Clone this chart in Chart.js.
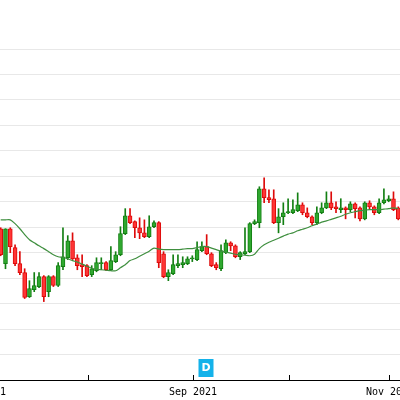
<!DOCTYPE html>
<html>
<head>
<meta charset="utf-8">
<script src="https://cdn.jsdelivr.net/npm/chart.js@4.4.0/dist/chart.umd.min.js"></script>
<style>
  html, body { margin: 0; padding: 0; background: #fff; overflow: hidden; }
  #wrap { position: absolute; left: -40px; top: 0; width: 440px; height: 400px; }
</style>
</head>
<body>
<div id="wrap"><canvas id="chart"></canvas></div>
<script>
// daily candles, one per trading day (index 0 = first visible session)
const opens = [
  25.94, 24.57, 25.94, 25.20, 24.57, 24.22, 23.27, 23.55, 23.67, 24.06,
  23.47, 24.06, 23.71, 24.45, 24.80, 25.47, 24.80, 24.53, 24.49, 24.14,
  24.29, 24.57, 24.61, 24.33, 24.65, 24.92, 25.75, 26.45, 26.22, 25.98,
  25.78, 25.63, 26.02, 26.18, 24.96, 24.06, 24.18, 24.49, 24.53, 24.57,
  24.76, 24.73, 25.08, 25.24, 24.96, 24.53, 24.37, 25.00, 25.39, 25.27,
  24.84, 24.96, 25.04, 26.14, 26.18, 27.51, 27.16, 27.12, 26.18, 26.41,
  26.57, 26.57, 26.65, 26.88, 26.57, 26.41, 26.18, 26.57, 26.76, 26.96,
  26.80, 26.69, 26.76, 26.69, 26.92, 26.76, 26.33, 26.96, 26.80, 26.57,
  26.96, 27.04, 27.12, 26.76
];
const highs = [
  25.98, 25.94, 25.98, 25.31, 25.04, 24.37, 23.90, 24.22, 24.22, 24.10,
  24.10, 24.10, 24.61, 25.98, 25.67, 25.78, 24.92, 24.92, 24.53, 24.49,
  24.80, 24.80, 24.65, 25.24, 25.04, 26.02, 26.73, 26.73, 26.25, 26.37,
  26.29, 26.45, 26.25, 26.22, 25.04, 24.33, 24.92, 24.92, 24.84, 24.84,
  24.88, 25.43, 25.43, 25.71, 25.00, 24.61, 25.31, 25.51, 25.43, 25.31,
  25.04, 25.98, 26.18, 26.29, 27.59, 27.94, 27.47, 27.47, 26.73, 26.96,
  27.12, 27.08, 27.35, 26.96, 26.76, 26.45, 26.80, 26.96, 27.39, 27.39,
  27.00, 27.12, 26.80, 27.00, 26.96, 26.80, 27.00, 27.04, 26.84, 27.12,
  27.51, 27.24, 27.39, 26.80
];
const lows = [
  24.88, 24.37, 25.00, 24.49, 24.14, 23.20, 23.24, 23.47, 23.63, 23.08,
  23.27, 23.67, 23.67, 24.33, 24.73, 24.73, 24.33, 24.06, 24.06, 24.06,
  24.25, 24.33, 24.29, 24.29, 24.61, 24.88, 25.71, 26.14, 25.59, 25.55,
  25.59, 25.59, 25.98, 24.41, 24.02, 23.90, 24.14, 24.41, 24.41, 24.53,
  24.65, 24.69, 25.04, 24.92, 24.45, 24.33, 24.29, 24.96, 25.08, 24.80,
  24.73, 24.92, 25.00, 26.10, 25.98, 26.96, 26.96, 26.14, 25.78, 26.10,
  26.53, 26.53, 26.61, 26.49, 26.37, 26.10, 26.10, 26.53, 26.73, 26.69,
  26.57, 26.57, 26.33, 26.61, 26.37, 26.25, 26.29, 26.73, 26.49, 26.53,
  26.92, 27.00, 26.65, 26.29
];
const closes = [
  24.92, 25.94, 25.24, 24.57, 24.22, 23.24, 23.59, 23.71, 24.06, 23.27,
  24.06, 23.71, 24.49, 24.84, 25.47, 24.76, 24.49, 24.45, 24.10, 24.37,
  24.61, 24.61, 24.33, 24.69, 24.92, 25.75, 26.45, 26.18, 25.98, 25.78,
  25.63, 26.02, 26.18, 24.61, 24.06, 24.22, 24.53, 24.57, 24.61, 24.76,
  24.80, 25.12, 25.24, 24.96, 24.49, 24.41, 25.08, 25.39, 25.27, 24.84,
  25.00, 25.04, 26.14, 26.22, 27.51, 27.16, 27.08, 26.18, 26.41, 26.57,
  26.61, 26.69, 26.88, 26.57, 26.41, 26.18, 26.57, 26.76, 26.96, 26.76,
  26.73, 26.76, 26.69, 26.92, 26.73, 26.33, 26.96, 26.80, 26.57, 26.96,
  27.08, 27.12, 26.69, 26.33
];
const movingAvg = [
  26.29, 26.29, 26.29, 26.14, 25.94, 25.71, 25.51, 25.39, 25.27, 25.16,
  25.04, 24.92, 24.84, 24.82, 24.76, 24.69, 24.63, 24.55, 24.47, 24.39,
  24.35, 24.33, 24.31, 24.29, 24.29, 24.41, 24.53, 24.69, 24.76, 24.86,
  24.96, 25.06, 25.18, 25.14, 25.12, 25.12, 25.12, 25.12, 25.14, 25.16,
  25.16, 25.20, 25.24, 25.24, 25.18, 25.12, 25.06, 25.02, 24.98, 24.94,
  24.92, 24.90, 24.88, 24.94, 25.16, 25.31, 25.41, 25.49, 25.57, 25.65,
  25.73, 25.78, 25.86, 25.92, 25.98, 26.06, 26.12, 26.20, 26.25, 26.31,
  26.37, 26.43, 26.51, 26.57, 26.61, 26.65, 26.67, 26.69, 26.69, 26.69,
  26.71, 26.73, 26.76, 26.73
];
// month starts, in trading-day units
const monthTicks = [-3.9, 18.23, 40.15, 60.19, 81.27];
const monthLabels = ["Jul 2021", "", "Sep 2021", "", "Nov 2021"];
const dividendDays = [42.8];

const UP_FILL = "#2fa82f";
const UP_EDGE = "#137f13";
const DOWN_FILL = "#ff3535";
const DOWN_EDGE = "#dd0a0a";

const dividendMarks = {
  id: "dividendMarks",
  afterDatasetsDraw(chart) {
    const ctx = chart.ctx;
    const x = chart.scales.x;
    const bottom = chart.chartArea.bottom;
    dividendDays.forEach((d) => {
      const cx = Math.round(x.getPixelForValue(d));
      ctx.save();
      ctx.fillStyle = "#14b2ea";
      ctx.fillRect(cx - 7.5, bottom - 21, 15, 18);
      ctx.fillStyle = "#fff";
      ctx.font = "bold 11px 'DejaVu Sans'";
      ctx.textAlign = "center";
      ctx.textBaseline = "middle";
      ctx.fillText("D", cx, bottom - 11.5);
      ctx.restore();
    });
  },
};

function createCandleChart(canvas) {
  const isUp = closes.map((c, i) => c >= opens[i]);

  const bodies = opens.map((o, i) => ({ x: i, y: [o, closes[i]] }));
  const wicks = lows.map((l, i) => ({ x: i, y: [l, highs[i]] }));
  const avg = movingAvg.map((v, i) => ({ x: i, y: v }));

  const chart = new Chart(canvas, {
    type: "bar",
    data: {
      datasets: [
        {
          type: "line",
          data: avg,
          borderColor: "#3f8f3f",
          borderWidth: 1.2,
          pointRadius: 0,
          tension: 0.25,
          order: 0,
        },
        {
          data: bodies,
          backgroundColor: isUp.map((u) => (u ? UP_FILL : DOWN_FILL)),
          borderColor: isUp.map((u) => (u ? UP_EDGE : DOWN_EDGE)),
          borderWidth: 1,
          borderSkipped: false,
          barThickness: 4,
          grouped: false,
          order: 1,
        },
        {
          data: wicks,
          backgroundColor: isUp.map((u) => (u ? UP_EDGE : DOWN_EDGE)),
          barThickness: 1,
          grouped: false,
          order: 2,
        },
      ],
    },
    options: {
      responsive: true,
      maintainAspectRatio: false,
      animation: false,
      layout: { padding: { top: 49, bottom: 0, left: 0, right: 0 } },
      plugins: {
        legend: { display: false },
        tooltip: { enabled: false },
      },
      scales: {
        x: {
          type: "linear",
          min: -8.497,
          max: 83.36,
          offset: false,
          grid: {
            offset: false,
            drawOnChartArea: false,
            tickLength: -5,
            tickColor: "#000",
          },
          border: { color: "#000", width: 1 },
          ticks: {
            autoSkip: false,
            maxRotation: 0,
            padding: 11,
            color: "#000",
            font: { family: "'DejaVu Sans Mono'", size: 10 },
            callback: (val, idx) => monthLabels[idx],
          },
          afterBuildTicks: (scale) => {
            scale.ticks = monthTicks.map((v) => ({ value: v }));
          },
          afterFit: (scale) => {
            scale.paddingLeft = 0;
            scale.paddingRight = 0;
            scale.height = 20;
          },
        },
        y: {
          min: 20,
          max: 33,
          ticks: { display: false, stepSize: 1 },
          grid: { color: "#e8e8e8", drawTicks: false },
          border: { display: false },
        },
      },
    },
    plugins: [dividendMarks],
  });

  return chart;
}

createCandleChart(document.getElementById("chart"));
</script>
</body>
</html>
